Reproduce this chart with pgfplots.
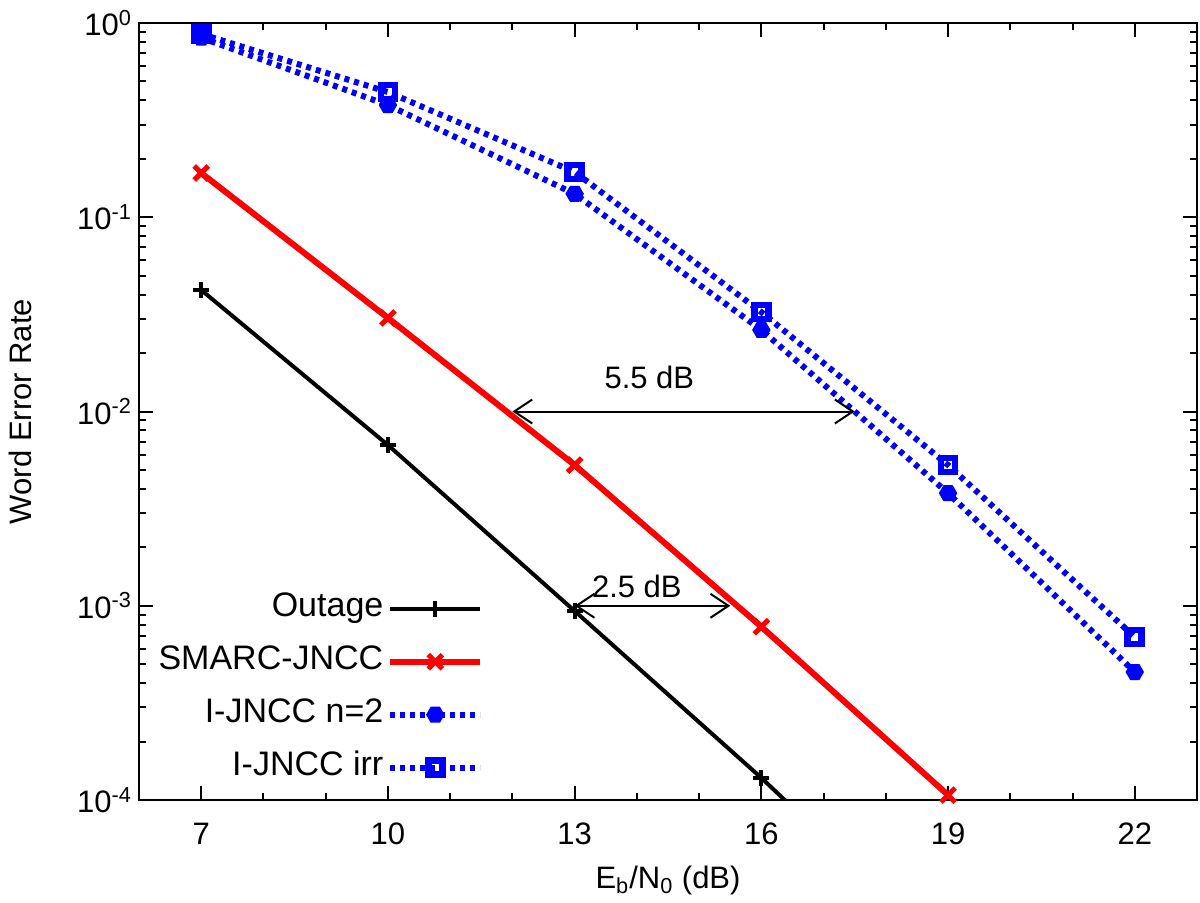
\documentclass[border=0pt]{standalone}
\usepackage{fontspec}
\setmainfont{Liberation Sans}
\usepackage{pgfplots}
\pgfplotsset{compat=1.18}
\usetikzlibrary{arrows.meta}
\newcommand{\myfont}{\fontsize{15.5}{18}\selectfont}
\newcommand{\legfont}{\fontsize{17}{19}\selectfont}
\begin{document}
\begin{tikzpicture}
\useasboundingbox (0,0) rectangle (600pt,451pt);
\begin{axis}[
  at={(69.5pt,51pt)}, anchor=south west,
  scale only axis, width=529pt, height=388.5pt,
  ymode=log, xmin=6, xmax=23, ymin=1e-4, ymax=1,
  xtick={7,10,13,16,19,22}, minor xtick={8,9,11,12,14,15,17,18,20,21},
  ytick={1e-4,1e-3,1e-2,1e-1,1},
  yticklabels={10\textsuperscript{-4},10\textsuperscript{-3},10\textsuperscript{-2},10\textsuperscript{-1},10\textsuperscript{0}},
  yminorticks=true,
  /pgf/number format/assume math mode=true,
  tick label style={font=\myfont},
  xticklabel style={yshift=-8pt},
  label style={font=\myfont},
  xlabel={E\textsubscript{b}/N\textsubscript{0} (dB)},
  ylabel={Word Error Rate},
  xlabel style={at={(axis description cs:0.5,-0.103)}, anchor=center},
  ylabel style={at={(axis description cs:-0.1125,0.5)}, anchor=center},
  axis line style={line width=1.2pt},
  major tick length=7pt, minor tick length=3.5pt,
  every tick/.style={black, line width=1pt},
  tick align=inside,
  legend cell align=right,
  legend plot pos=right,
  legend image code/.code={\draw[mark repeat=2,mark phase=2,#1] plot coordinates {(5pt,0pt) (27.5pt,0pt) (50pt,0pt)};},
  legend style={draw=none, fill=none, font=\legfont, at={(0.3315,0.275)}, anchor=north east,
    row sep=8.5pt, nodes={text height=11pt, text depth=3pt}},
]
\addplot[black, line width=2pt, mark=+, mark size=4pt, mark options={line width=2pt}] coordinates {
(7,0.0422) (10,0.00672) (13,0.00094) (16,0.00013) (19,0.000016)};
\addlegendentry{Outage}
\addplot[red, line width=3pt, mark=x, mark size=5pt, mark options={line width=2.5pt}] coordinates {
(7,0.169) (10,0.0303) (13,0.0053) (16,0.00078) (19,0.000106)};
\addlegendentry{SMARC-JNCC}
\addplot[blue, line width=3pt, dash pattern=on 2.5pt off 2.5pt, mark=asterisk, mark size=4pt, mark options={solid, line width=4.5pt}] coordinates {
(7,0.84) (10,0.378) (13,0.132) (16,0.0263) (19,0.0038) (22,0.000456)};
\addlegendentry{I-JNCC n=2}
\addplot[blue, line width=3pt, dash pattern=on 2.5pt off 2.5pt, mark=square, mark size=3.5pt, mark options={solid, line width=3.3pt}] coordinates {
(7,0.878) (10,0.441) (13,0.171) (16,0.0325) (19,0.0053) (22,0.00069)};
\addlegendentry{I-JNCC irr}
\draw[line width=1pt, {Straight Barb[length=9pt,width=12pt]}-{Straight Barb[length=9pt,width=12pt]}] (axis cs:12,0.01) -- (axis cs:17.5,0.01);
\node[font=\myfont] at (axis cs:14.2,0.0149) {5.5 dB};
\draw[line width=1pt, {Straight Barb[length=9pt,width=12pt]}-{Straight Barb[length=9pt,width=12pt]}] (axis cs:13,0.001) -- (axis cs:15.5,0.001);
\node[font=\myfont] at (axis cs:14.0,0.00126) {2.5 dB};
\end{axis}
\end{tikzpicture}
\end{document}
